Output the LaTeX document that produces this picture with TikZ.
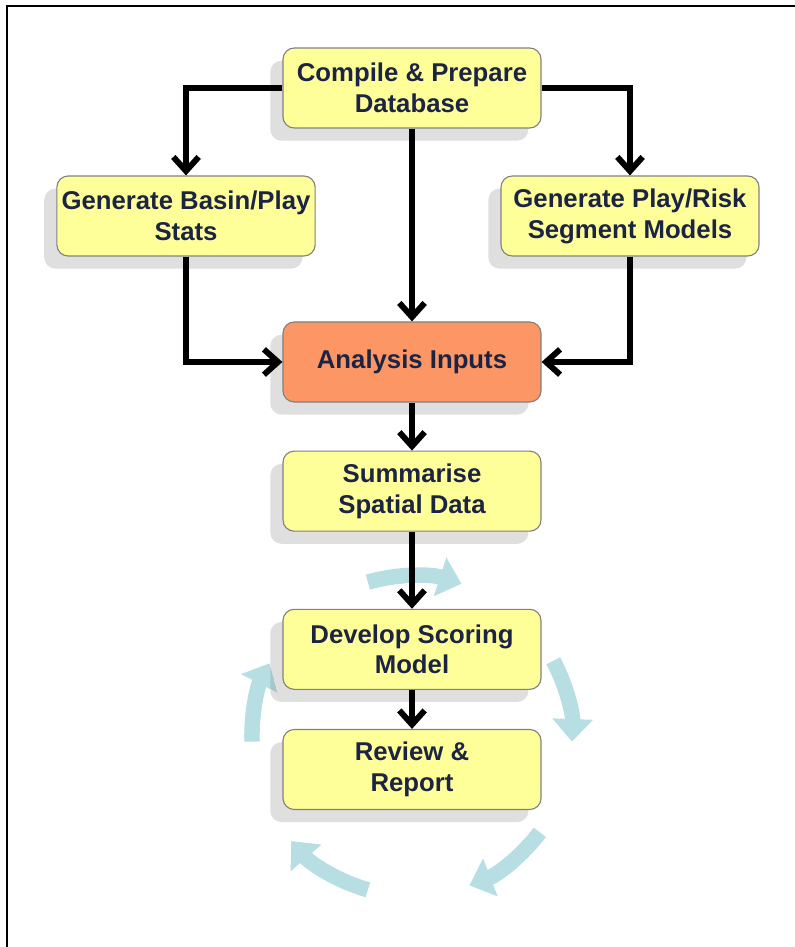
\documentclass[tikz,border=0pt]{standalone}
\usepackage{fontspec}
\setmainfont{Liberation Sans}
\usetikzlibrary{arrows.meta,positioning,calc,shadows}
\definecolor{boxyellow}{RGB}{255,255,153}
\definecolor{boxorange}{RGB}{252,150,100}
\definecolor{textnavy}{RGB}{28,36,68}
\definecolor{cycleteal}{RGB}{183,222,226}

\begin{document}
\begin{tikzpicture}[x=0.025cm,y=-0.025cm,node distance=1.2cm,>={Straight Barb[length=10pt,width=18pt]},
  box/.style={draw=gray,line width=0.8pt,rounded corners=8pt,fill=boxyellow,minimum width=6.45cm,minimum height=2cm,align=center,text=textnavy,font=\fontsize{18.3}{22}\selectfont\bfseries,drop shadow={shadow xshift=-9pt,shadow yshift=-9pt,opacity=0.25}},
  flow/.style={->,line width=4.2pt},
  cyc/.style={-{Triangle[length=16pt,width=28pt]},line width=11pt,cycleteal}]

\useasboundingbox (0,0) rectangle (795,947);
\draw[line width=1.5pt] (795,6) -- (7,6) -- (7,947);

% review cycle
\coordinate (loop) at (412,736);
\draw[cyc] ([shift={(106:4cm)}]loop) arc[start angle=106,end angle=72,radius=4cm];
\draw[cyc] ([shift={(28:4cm)}]loop) arc[start angle=28,end angle=-2,radius=4cm];
\draw[cyc] ([shift={(-37:4cm)}]loop) arc[start angle=-37,end angle=-69,radius=4cm];
\draw[cyc] ([shift={(-106:4cm)}]loop) arc[start angle=-106,end angle=-139,radius=4cm];
\draw[cyc] ([shift={(182:4cm)}]loop) arc[start angle=182,end angle=153,radius=4cm];

\node[box] (db) at (412,88) {Compile \& Prepare\\Database};
\node[box] (stats) at (186,216) {Generate Basin/Play\\Stats};
\node[box] (risk) at (630,216) {Generate Play/Risk\\Segment Models};
\node[box,fill=boxorange] (inputs) at (412,362) {Analysis Inputs};
\node[box,below=1.2cm of inputs] (spatial) {Summarise\\Spatial Data};
\node[box,below=1.925cm of spatial] (scoring) {Develop Scoring\\Model};
\node[box,below=0.975cm of scoring] (report) {Review \&\\Report};

\draw[flow] (db.west) -| (stats.north);
\draw[flow] (db.east) -| (risk.north);
\draw[flow] (db) -- (inputs);
\draw[flow] (stats.south) |- (inputs.west);
\draw[flow] (risk.south) |- (inputs.east);
\draw[flow] (inputs) -- (spatial);
\draw[flow] (spatial) -- (scoring);
\draw[flow] (scoring) -- (report);

\end{tikzpicture}
\end{document}
